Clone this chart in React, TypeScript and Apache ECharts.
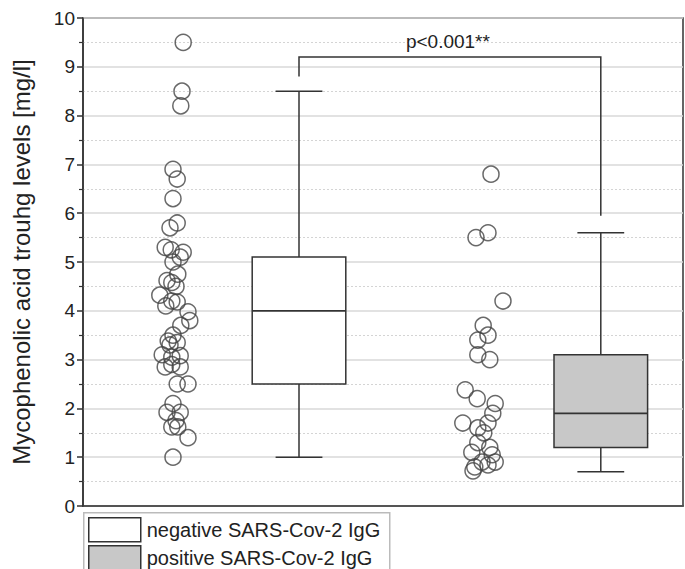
import React, { useEffect, useRef } from "react";
import * as echarts from "echarts";

const yAxisTitle = "Mycophenolic acid trouhg levels [mg/l]";
const groupNames = ["negative SARS-Cov-2 IgG", "positive SARS-Cov-2 IgG"];
const boxFills = ["#ffffff", "#c8c8c8"];
// box centres on the hidden x scale (0..100)
const boxPositions = [36, 86.3];
// [min, Q1, median, Q3, max]
const negativeBox = [1.0, 2.5, 4.0, 5.1, 8.5];
const positiveBox = [0.7, 1.2, 1.9, 3.1, 5.6];

// raw points: jittered x position and value
const negativeJitter = [16.7, 16.5, 16.3, 15.0, 15.7, 15.0, 15.7, 14.5, 13.7, 14.7, 16.7, 16.2, 15.0, 15.8, 14.0, 14.8, 15.5, 12.8, 14.8, 15.7, 17.5, 17.8, 16.3, 15.0, 14.2, 15.7, 14.5, 13.2, 14.8, 16.2, 13.7, 14.8, 16.2, 15.7, 17.5, 15.0, 14.0, 16.2, 15.5, 14.8, 15.8, 17.5, 15.0, 13.8];
const negativeValues = [9.5, 8.5, 8.2, 6.9, 6.7, 6.3, 5.8, 5.7, 5.3, 5.25, 5.2, 5.1, 5.0, 4.75, 4.62, 4.58, 4.5, 4.32, 4.2, 4.18, 3.98, 3.8, 3.7, 3.5, 3.38, 3.35, 3.3, 3.1, 3.05, 3.08, 2.85, 2.9, 2.85, 2.5, 2.5, 2.1, 1.92, 1.92, 1.75, 1.62, 1.62, 1.4, 1.0, 4.1];
const positiveJitter = [68.0, 67.5, 65.5, 70.0, 66.7, 67.5, 65.8, 65.8, 67.8, 63.7, 65.7, 68.7, 68.3, 63.3, 67.5, 65.8, 66.8, 65.8, 67.8, 64.8, 68.2, 66.5, 68.7, 67.5, 65.3, 65.0];
const positiveValues = [6.8, 5.6, 5.5, 4.2, 3.7, 3.5, 3.4, 3.1, 3.0, 2.38, 2.2, 2.1, 1.9, 1.7, 1.7, 1.6, 1.5, 1.3, 1.2, 1.1, 1.05, 0.9, 0.9, 0.84, 0.8, 0.72];

const pLabel = "p<0.001**";
// bracket: top level, left leg end, right leg end
const bracketTop = 9.2;
const bracketLeftEnd = 8.8;
const bracketRightEnd = 5.95;
const pLabelY = 9.52;

const FONT = "Liberation Sans, Arial, sans-serif";
const INK = "#333333";

export default function App() {
  const ref = useRef<HTMLDivElement>(null);
  useEffect(() => {
    if (!ref.current) return;
    const chart = echarts.init(ref.current, null, { renderer: "svg" });
    const boxWidth = 15.6;
    const capWidth = 7.8;

    const boxData = [
      [boxPositions[0], ...negativeBox],
      [boxPositions[1], ...positiveBox],
    ];

    const option: any = {
      animation: false,
      backgroundColor: "#ffffff",
      grid: {
        left: 83,
        right: 2,
        top: 18,
        bottom: 63,
        show: true,
        borderColor: INK,
        borderWidth: 1.5,
        backgroundColor: "transparent",
      },
      xAxis: {
        type: "value",
        min: 0,
        max: 100,
        axisLine: { show: true, onZero: false, lineStyle: { color: INK, width: 1.5 } },
        axisTick: { show: false },
        axisLabel: { show: false },
        splitLine: { show: false },
      },
      yAxis: {
        type: "value",
        min: 0,
        max: 10,
        interval: 1,
        name: yAxisTitle,
        nameLocation: "middle",
        nameGap: 50,
        nameTextStyle: { fontFamily: FONT, fontSize: 24, color: "#222" },
        axisLine: { show: true, lineStyle: { color: INK, width: 1.5 } },
        axisTick: { show: true, inside: false, length: 6, lineStyle: { color: INK, width: 1.5 } },
        minorTick: { show: true, splitNumber: 2, length: 4, lineStyle: { color: INK, width: 1.2 } },
        axisLabel: { fontFamily: FONT, fontSize: 19, color: "#222", margin: 8 },
        splitLine: { show: true, lineStyle: { color: "#d9d9d9", width: 1.5 } },
        minorSplitLine: { show: true, lineStyle: { color: "#d4d4d4", type: [2, 2], width: 1 } },
      },
      series: [
        {
          type: "custom",
          name: "boxes",
          data: boxData,
          z: 3,
          encode: { x: 0, y: [1, 2, 3, 4, 5] },
          renderItem: (params: any, api: any) => {
            const x = api.value(0);
            const mn = api.value(1), q1 = api.value(2), med = api.value(3), q3 = api.value(4), mx = api.value(5);
            const half = api.size([boxWidth, 0])[0] / 2;
            const capHalf = api.size([capWidth, 0])[0] / 2;
            const pMin = api.coord([x, mn]);
            const pQ1 = api.coord([x, q1]);
            const pMed = api.coord([x, med]);
            const pQ3 = api.coord([x, q3]);
            const pMax = api.coord([x, mx]);
            const ls = { stroke: INK, lineWidth: 1.5 };
            return {
              type: "group",
              children: [
                { type: "line", shape: { x1: pMax[0], y1: pMax[1], x2: pQ3[0], y2: pQ3[1] }, style: ls },
                { type: "line", shape: { x1: pQ1[0], y1: pQ1[1], x2: pMin[0], y2: pMin[1] }, style: ls },
                { type: "line", shape: { x1: pMax[0] - capHalf, y1: pMax[1], x2: pMax[0] + capHalf, y2: pMax[1] }, style: ls },
                { type: "line", shape: { x1: pMin[0] - capHalf, y1: pMin[1], x2: pMin[0] + capHalf, y2: pMin[1] }, style: ls },
                {
                  type: "rect",
                  shape: { x: pQ3[0] - half, y: pQ3[1], width: 2 * half, height: pQ1[1] - pQ3[1] },
                  style: { fill: boxFills[params.dataIndex], stroke: INK, lineWidth: 1.5 },
                },
                { type: "line", shape: { x1: pMed[0] - half, y1: pMed[1], x2: pMed[0] + half, y2: pMed[1] }, style: { stroke: INK, lineWidth: 1.8 } },
              ],
            };
          },
        },
        {
          type: "custom",
          name: "bracket",
          data: [[boxPositions[0], boxPositions[1], bracketTop, bracketLeftEnd, bracketRightEnd, pLabelY]],
          z: 3,
          encode: { x: [0, 1], y: [2, 3, 4, 5] },
          renderItem: (params: any, api: any) => {
            const x1 = api.value(0), x2 = api.value(1);
            const top = api.value(2), le = api.value(3), re = api.value(4), ty = api.value(5);
            const a = api.coord([x1, le]);
            const b = api.coord([x1, top]);
            const c = api.coord([x2, top]);
            const d = api.coord([x2, re]);
            const t = api.coord([(x1 + x2) / 2, ty]);
            return {
              type: "group",
              children: [
                { type: "polyline", shape: { points: [a, b, c, d] }, style: { stroke: INK, lineWidth: 1.5, fill: null } },
                {
                  type: "text",
                  x: t[0] - 2,
                  y: t[1],
                  style: { text: pLabel, fontFamily: FONT, fontSize: 19, fill: "#222", align: "center", verticalAlign: "middle" },
                },
              ],
            };
          },
        },
        {
          type: "scatter",
          name: "negative points",
          data: negativeJitter.map((x, i) => [x, negativeValues[i]]),
          symbol: "circle",
          symbolSize: 16,
          z: 4,
          itemStyle: { color: "rgba(255,255,255,0)", borderColor: "#444", borderWidth: 1.5 },
        },
        {
          type: "scatter",
          name: "positive points",
          data: positiveJitter.map((x, i) => [x, positiveValues[i]]),
          symbol: "circle",
          symbolSize: 16,
          z: 4,
          itemStyle: { color: "rgba(255,255,255,0)", borderColor: "#444", borderWidth: 1.5 },
        },
      ],
      graphic: [
        {
          type: "group",
          left: 83,
          top: 512,
          children: [
            { type: "rect", shape: { x: 0, y: 0, width: 306, height: 70 }, style: { fill: "#fff", stroke: "#bbbbbb", lineWidth: 1.5 } },
            { type: "rect", shape: { x: 5, y: 5, width: 52, height: 24 }, style: { fill: boxFills[0], stroke: INK, lineWidth: 1.5 } },
            { type: "rect", shape: { x: 5, y: 33, width: 52, height: 24 }, style: { fill: boxFills[1], stroke: INK, lineWidth: 1.5 } },
            { type: "text", x: 63, y: 17, style: { text: groupNames[0], fontFamily: FONT, fontSize: 20, fill: "#222", verticalAlign: "middle" } },
            { type: "text", x: 63, y: 45, style: { text: groupNames[1], fontFamily: FONT, fontSize: 20, fill: "#222", verticalAlign: "middle" } },
          ],
        },
      ],
    };
    chart.setOption(option);
    return () => chart.dispose();
  }, []);
  return <div ref={ref} style={{ width: 685, height: 569, position: "absolute", left: 0, top: 0 }} />;
}
